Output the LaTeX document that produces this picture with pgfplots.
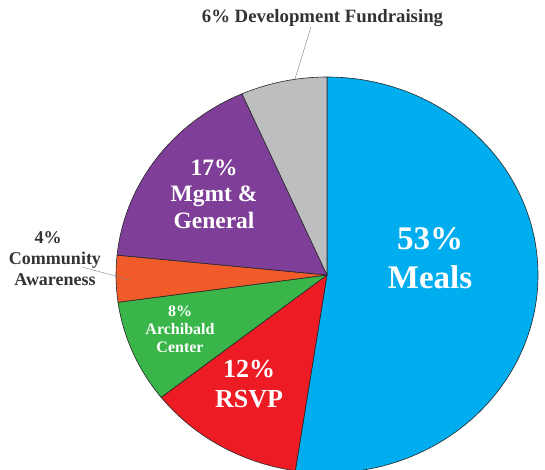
\documentclass[border=0pt]{standalone}
\usepackage{pgfplots}
\pgfplotsset{compat=1.18}
\usepackage{pgfplotstable}
\usepackage{fontspec}
\setmainfont{Liberation Serif}
\definecolor{cmeals}{RGB}{0,174,239}
\definecolor{crsvp}{RGB}{237,28,36}
\definecolor{carch}{RGB}{57,181,74}
\definecolor{ccomm}{RGB}{241,90,41}
\definecolor{cmgmt}{RGB}{127,63,152}
\definecolor{cdev}{RGB}{188,190,192}
\definecolor{labgray}{RGB}{51,51,51}
\pgfplotstableread{
pct col
52.4 cmeals
12.0 crsvp
8.4 carch
3.8 ccomm
16.8 cmgmt
6.6 cdev
}\piedata
\begin{document}
\begin{tikzpicture}
\begin{axis}[width=545pt,height=469pt,scale only axis,
  xmin=0,xmax=545,ymin=0,ymax=469,hide axis,clip=true]
\xdef\startang{90}
\pgfplotsforeachungrouped \i in {0,...,5}{%
  \pgfplotstablegetelem{\i}{pct}\of\piedata \let\ppct=\pgfplotsretval
  \pgfplotstablegetelem{\i}{col}\of\piedata \let\pcol=\pgfplotsretval
  \pgfmathsetmacro{\stopang}{\startang-3.6*\ppct}%
  \pgfmathsetmacro{\px}{327+211*cos(\startang)}%
  \pgfmathsetmacro{\py}{194+198*sin(\startang)}%
  \edef\tmp{\noexpand\filldraw[fill=\pcol,draw=black!85,line width=0.6pt,line join=round]
    (axis cs:327,194) -- (axis cs:\px,\py)
    arc[start angle=\startang, end angle=\stopang, x radius=211pt, y radius=198pt] -- cycle;}%
  \tmp
  \xdef\startang{\stopang}%
}
\node[white,align=center,inner sep=0,font=\fontsize{33}{39}\selectfont\bfseries] at (axis cs:430,211) {53\%\\Meals};
\node[white,align=center,inner sep=0,font=\fontsize{23.5}{26.5}\selectfont\bfseries] at (axis cs:214,275) {17\%\\Mgmt \&\\General};
\node[white,align=center,inner sep=0,font=\fontsize{26}{30}\selectfont\bfseries] at (axis cs:249,85) {12\%\\RSVP};
\node[white,align=center,inner sep=0,font=\fontsize{16}{18}\selectfont\bfseries] at (axis cs:180,140) {8\%\\Archibald\\Center};
\node[labgray,align=center,inner sep=0,font=\fontsize{18}{21}\selectfont\bfseries] at (axis cs:55,210) {4\%\hspace*{14pt}\\Community\\Awareness};
\draw[gray,line width=0.4pt] (axis cs:82,202) -- (axis cs:130,189);
\node[labgray,anchor=base,inner sep=0,font=\fontsize{18.8}{22}\selectfont\bfseries] at (axis cs:322.5,446) {6\% Development Fundraising};
\draw[gray,line width=0.4pt] (axis cs:311,442) -- (axis cs:295,390);
\end{axis}
\pgfresetboundingbox
\path[use as bounding box] (current axis.south west) rectangle (current axis.north east);
\end{tikzpicture}
\end{document}
